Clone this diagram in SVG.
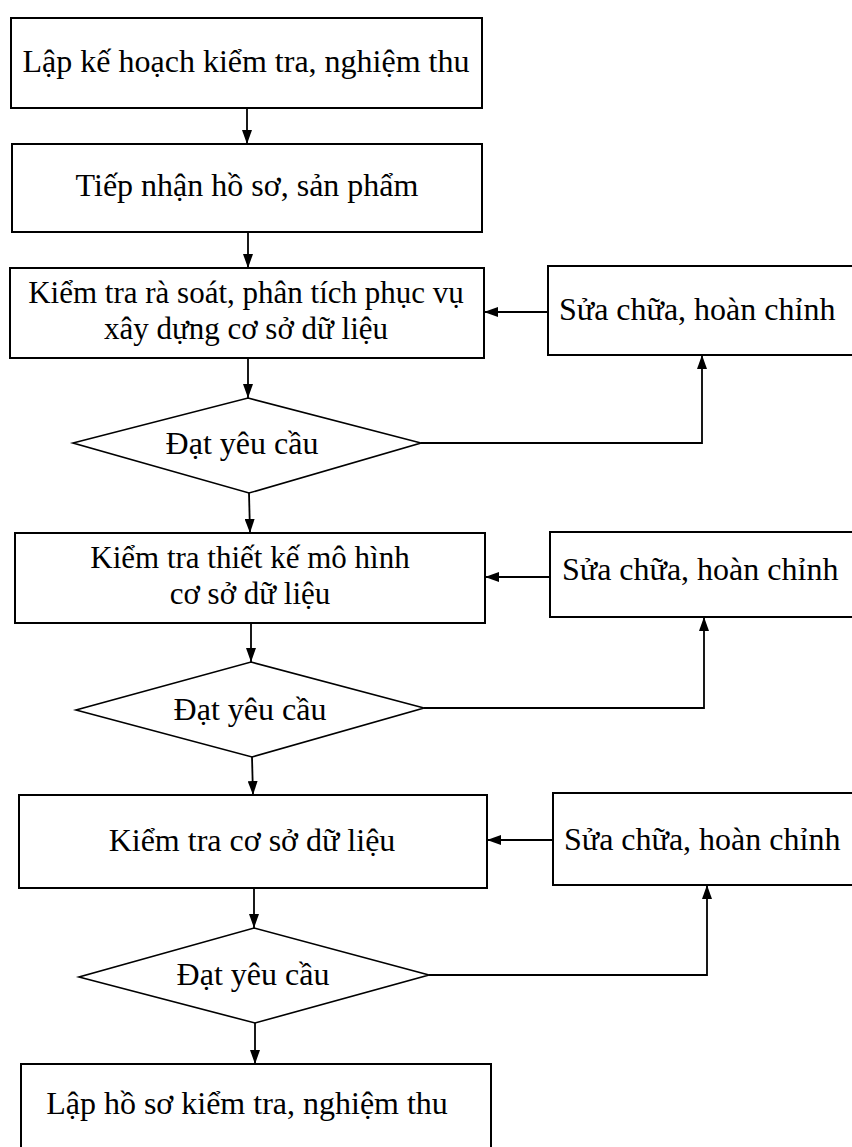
<svg xmlns="http://www.w3.org/2000/svg" width="852" height="1147" viewBox="0 0 852 1147">
  <style>
    .box { fill: #ffffff; stroke: #000000; stroke-width: 2; }
    .dec { fill: #ffffff; stroke: #000000; stroke-width: 1.6; }
    .lbl { font-family: "Liberation Serif", "Times New Roman", serif; font-size: 32px; fill: #000000; text-anchor: middle; }
    .lbl2 { font-family: "Liberation Serif", "Times New Roman", serif; font-size: 31px; fill: #000000; text-anchor: middle; }
    .lbl-l { font-family: "Liberation Serif", "Times New Roman", serif; font-size: 32px; fill: #000000; text-anchor: start; }
    .wire { fill: none; stroke: #000000; stroke-width: 1.8; }
  </style>
  <defs>
    <marker id="head" viewBox="0 0 14 10" refX="14" refY="5" markerWidth="14" markerHeight="10" markerUnits="userSpaceOnUse" orient="auto">
      <path d="M0,0 L14,5 L0,10 z" fill="#000000"/>
    </marker>
  </defs>
  <rect width="852" height="1147" fill="#ffffff"/>

  <!-- main column -->
  <g id="plan">
    <rect class="box" x="11" y="18" width="471" height="90"/>
    <text class="lbl" x="246" y="72">Lập kế hoạch kiểm tra, nghiệm thu</text>
  </g>
  <g id="receive">
    <rect class="box" x="12" y="144" width="470" height="88"/>
    <text class="lbl" x="247" y="196">Tiếp nhận hồ sơ, sản phẩm</text>
  </g>
  <g id="review">
    <rect class="box" x="10" y="268" width="474" height="90"/>
    <text class="lbl2" x="246" y="303">Kiểm tra rà soát, phân tích phục vụ</text>
    <text class="lbl2" x="246" y="339">xây dựng cơ sở dữ liệu</text>
  </g>
  <g id="check1">
    <polygon class="dec" points="248,398 421,443 249,493 73,443"/>
    <text class="lbl" x="242" y="454">Đạt yêu cầu</text>
  </g>
  <g id="model">
    <rect class="box" x="15" y="533" width="470" height="90"/>
    <text class="lbl2" x="250" y="568">Kiểm tra thiết kế mô hình</text>
    <text class="lbl2" x="250" y="604">cơ sở dữ liệu</text>
  </g>
  <g id="check2">
    <polygon class="dec" points="251,662 424,708 252,757 76,710"/>
    <text class="lbl" x="250" y="720">Đạt yêu cầu</text>
  </g>
  <g id="database">
    <rect class="box" x="19" y="795" width="468" height="93"/>
    <text class="lbl" x="252" y="851">Kiểm tra cơ sở dữ liệu</text>
  </g>
  <g id="check3">
    <polygon class="dec" points="254,928 429,975 255,1023 79,977"/>
    <text class="lbl" x="253" y="985">Đạt yêu cầu</text>
  </g>
  <g id="record">
    <rect class="box" x="21" y="1064" width="470" height="90"/>
    <text class="lbl" x="247" y="1114">Lập hồ sơ kiểm tra, nghiệm thu</text>
  </g>

  <!-- rework boxes, running past the right edge -->
  <g id="fix1">
    <rect class="box" x="548" y="266" width="310" height="89"/>
    <text class="lbl-l" x="559" y="320">Sửa chữa, hoàn chỉnh</text>
  </g>
  <g id="fix2">
    <rect class="box" x="550" y="532" width="310" height="85"/>
    <text class="lbl-l" x="562" y="580">Sửa chữa, hoàn chỉnh</text>
  </g>
  <g id="fix3">
    <rect class="box" x="553" y="793" width="310" height="92"/>
    <text class="lbl-l" x="564" y="850">Sửa chữa, hoàn chỉnh</text>
  </g>

  <!-- connectors -->
  <g id="connectors">
    <path class="wire" d="M247,108 L247,144" marker-end="url(#head)"/>
    <path class="wire" d="M248,232 L248,268" marker-end="url(#head)"/>
    <path class="wire" d="M248,358 L248,398" marker-end="url(#head)"/>
    <path class="wire" d="M249,493 L250,533" marker-end="url(#head)"/>
    <path class="wire" d="M251,623 L251,662" marker-end="url(#head)"/>
    <path class="wire" d="M252,757 L253,795" marker-end="url(#head)"/>
    <path class="wire" d="M254,888 L254,928" marker-end="url(#head)"/>
    <path class="wire" d="M255,1023 L255,1064" marker-end="url(#head)"/>

    <path class="wire" d="M421,443 L702,443 L702,355" marker-end="url(#head)"/>
    <path class="wire" d="M424,708 L704,708 L704,617" marker-end="url(#head)"/>
    <path class="wire" d="M429,975 L707,975 L707,885" marker-end="url(#head)"/>

    <path class="wire" d="M548,312 L484,312" marker-end="url(#head)"/>
    <path class="wire" d="M550,577 L485,577" marker-end="url(#head)"/>
    <path class="wire" d="M553,840 L487,840" marker-end="url(#head)"/>
  </g>
</svg>
